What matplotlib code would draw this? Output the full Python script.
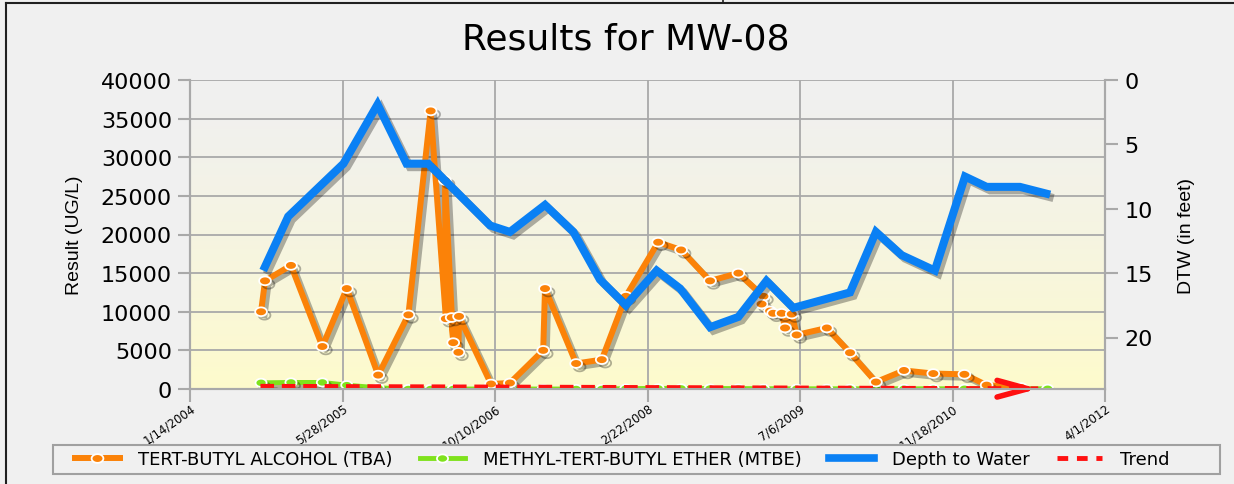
import numpy as np
import pandas as pd
import matplotlib
matplotlib.use("Agg")
import matplotlib.pyplot as plt
import matplotlib.patheffects as pe
from matplotlib.lines import Line2D
from matplotlib.patches import Rectangle
from matplotlib.path import Path

plt.rcParams['font.family'] = ['DejaVu Sans']
NARROW = ['Liberation Sans', 'DejaVu Sans']

# ---------------- data ----------------
title = "Results for MW-08"
xtick_labels = ['1/14/2004', '5/28/2005', '10/10/2006', '2/22/2008', '7/6/2009', '11/18/2010', '4/1/2012']
y_ticks = [0, 5000, 10000, 15000, 20000, 25000, 30000, 35000, 40000]
dtw_ticks = [0, 5, 10, 15, 20]

tba_dates = ['2004-09-03', '2004-09-16', '2004-12-10', '2005-03-23', '2005-06-11', '2005-09-22',
             '2005-12-30', '2006-03-13', '2006-05-02', '2006-04-29', '2006-05-26', '2006-05-21',
             '2006-06-12', '2006-06-14', '2006-09-27', '2006-11-28', '2007-03-17', '2007-03-23',
             '2007-07-03', '2007-09-25', '2007-12-13', '2008-03-28', '2008-06-11', '2008-09-14',
             '2008-12-16', '2009-03-08', '2009-03-02', '2009-03-30', '2009-04-09', '2009-05-07',
             '2009-05-18', '2009-06-09', '2009-06-25', '2009-10-02', '2009-12-17', '2010-03-12',
             '2010-06-12', '2010-09-16', '2010-12-27', '2011-03-10', '2011-07-01']
tba_vals = [10000, 14000, 16000, 5500, 13000, 1800, 9600, 36000, 9100, 27000,
            6000, 9250, 4750, 9400, 650, 780, 5000, 13000, 3300, 3800,
            12000, 19000, 18000, 14000, 15000, 12000, 11000, 10100, 9800, 9800,
            7900, 9700, 7000, 7900, 4700, 900, 2400, 2000, 1900, 500, 200]

mtbe_dates = ['2004-09-03', '2004-12-10', '2005-03-23', '2005-06-11', '2005-09-22', '2005-12-30',
              '2006-03-13', '2006-05-26', '2006-06-14', '2006-09-27', '2006-11-28', '2007-03-17',
              '2007-07-03', '2007-09-25', '2007-12-13', '2008-03-28', '2008-06-11', '2008-09-14',
              '2008-12-16', '2009-03-08', '2009-06-25', '2009-10-02', '2009-12-17', '2010-03-12',
              '2010-06-12', '2010-09-16', '2010-12-27', '2011-03-10', '2011-07-01', '2011-09-26']
mtbe_vals = [800, 850, 850, 500, 150, 0, 0, 0, 0, 0,
             0, 0, 0, 0, 50, 80, 80, 60, 60, 40,
             30, 30, 30, 30, 30, 30, 30, 30, 30, 30]

dtw_dates = ['2004-09-10', '2004-12-01', '2005-05-31', '2005-09-20', '2005-12-24', '2006-03-05',
             '2006-09-24', '2006-11-28', '2007-03-23', '2007-06-24', '2007-09-19', '2007-12-13',
             '2008-03-23', '2008-06-08', '2008-09-14', '2008-12-16', '2009-03-18', '2009-06-14',
             '2009-12-17', '2010-03-12', '2010-06-04', '2010-09-21', '2010-12-29', '2011-03-10',
             '2011-06-27', '2011-10-04']
dtw_vals = [14.8, 10.6, 6.5, 1.9, 6.5, 6.5, 11.3, 11.8, 9.7, 11.8,
            15.5, 17.5, 14.8, 16.2, 19.2, 18.4, 15.6, 17.7, 16.5, 11.8,
            13.6, 14.8, 7.5, 8.3, 8.3, 8.9]

trend_dates = ['2004-09-01', '2011-08-26']
trend_vals = [350, 30]

legend_labels = ['TERT-BUTYL ALCOHOL (TBA)', 'METHYL-TERT-BUTYL ETHER (MTBE)', 'Depth to Water', 'Trend']

# ---------------- styling ----------------
C_TBA = '#fb8208'
C_MTBE = '#7fe21c'
C_DTW = '#0a80f4'
C_TREND = '#ff1010'
GRID = '#a9a9a9'
BG = '#f0f0f0'
W, H = 1234, 485

th = np.linspace(0, 2 * np.pi, 41)
OVAL = Path(np.c_[1.35 * np.cos(th), np.sin(th)], closed=True)

xt = pd.to_datetime(xtick_labels, format='%m/%d/%Y')
tba_x = pd.to_datetime(tba_dates)
mtbe_x = pd.to_datetime(mtbe_dates)
dtw_x = pd.to_datetime(dtw_dates)
trend_x = pd.to_datetime(trend_dates)

fig = plt.figure(figsize=(W / 100, H / 100), dpi=100)
fig.patch.set_facecolor(BG)

pos = [190 / W, 1 - 390 / H, (1105 - 190) / W, (390 - 81) / H]

# gradient background of the plot area
bg = fig.add_axes(pos, zorder=0)
t = np.linspace(0, 1, 256)[:, None]
top = np.array([240, 240, 240]) / 255
bot = np.array([254, 251, 204]) / 255
w = t ** 1.3
grad = top[None, None, :] * (1 - w[..., None]) + bot[None, None, :] * w[..., None]
grad = np.repeat(grad, 2, axis=1)
bg.imshow(grad, aspect='auto', extent=[0, 1, 0, 1], origin='upper')
bg.set_axis_off()

ax = fig.add_axes(pos, zorder=1)
ax.patch.set_alpha(0)

shadow = [pe.SimpleLineShadow(offset=(2.5, -2.5), shadow_color='k', alpha=0.3), pe.Normal()]

ax.plot(mtbe_x, mtbe_vals, color=C_MTBE, lw=3.5, marker=OVAL, ms=8, mfc=C_MTBE, mec='white',
        mew=1.3, path_effects=shadow, zorder=3)
ax.plot(tba_x, tba_vals, color=C_TBA, lw=4.3, marker=OVAL, ms=8.5, mfc=C_TBA, mec='white',
        mew=1.3, path_effects=shadow, zorder=4)
ax.plot(trend_x, trend_vals, color=C_TREND, lw=3.5, ls=(0, (2.8, 1.6)), path_effects=shadow, zorder=5)
ax.annotate('', xy=(trend_x[-1], trend_vals[-1]),
            xytext=(trend_x[-1] - pd.Timedelta(days=60), trend_vals[-1] + 3),
            arrowprops=dict(arrowstyle='->,head_length=2.2,head_width=0.6', color=C_TREND, lw=4,
                            mutation_scale=10, shrinkA=0, shrinkB=0), zorder=6)

ax.set_xlim(xt[0], xt[-1])
ax.set_ylim(0, 40000)
ax.set_xticks(xt)
ax.set_xticklabels(xtick_labels, rotation=35, ha='right', va='top', rotation_mode='anchor', fontsize=8.5)
ax.set_yticks(y_ticks)
ax.set_yticklabels([str(v) for v in y_ticks], fontsize=16)
ax.grid(True, color=GRID, lw=1.3)
ax.set_axisbelow(True)
ax.tick_params(axis='y', color=GRID, width=1.5, length=9, pad=4)
ax.tick_params(axis='x', color=GRID, width=1.5, length=9, pad=0)
for s in ['left', 'bottom', 'right']:
    ax.spines[s].set_color(GRID)
    ax.spines[s].set_linewidth(1.5)
ax.spines['top'].set_visible(False)
ax.set_ylabel('Result (UG/L)', fontsize=14, family=NARROW, labelpad=13)

ax2 = ax.twinx()
ax2.plot(dtw_x, dtw_vals, color=C_DTW, lw=5.8, solid_capstyle='butt', solid_joinstyle='miter',
         path_effects=shadow, zorder=3)
ax2.set_ylim(24, 0)
ax2.set_yticks(dtw_ticks)
ax2.set_yticklabels([str(v) for v in dtw_ticks], fontsize=16)
ax2.tick_params(axis='y', color=GRID, width=1.5, length=9, pad=5)
for s in ['left', 'bottom', 'right']:
    ax2.spines[s].set_color(GRID)
    ax2.spines[s].set_linewidth(1.5)
ax2.spines['top'].set_visible(False)
ax2.set_ylabel('DTW (in feet)', fontsize=14, family=NARROW, labelpad=18)

fig.text(626 / W, 1 - 40 / H, title, fontsize=26, ha='center', va='center')

# legend (frame drawn as a separate box like the original)
fig.add_artist(Rectangle((53 / W, 1 - 475 / H), (1220 - 53) / W, 29 / H, transform=fig.transFigure,
                         facecolor=BG, edgecolor='#a0a0a0', lw=1.5, zorder=2))
handles = [
    Line2D([], [], color=C_TBA, lw=4.3, marker=OVAL, ms=8.5, mfc=C_TBA, mec='white', mew=1.3),
    Line2D([], [], color=C_MTBE, lw=3.5, marker=OVAL, ms=8, mfc=C_MTBE, mec='white', mew=1.3),
    Line2D([], [], color=C_DTW, lw=5.5),
    Line2D([], [], color=C_TREND, lw=3.5, ls=(0, (2.2, 1.8))),
]
leg = fig.legend(handles, legend_labels, loc='center', bbox_to_anchor=(622 / W, 1 - 460.5 / H),
                 ncol=4, fontsize=13, frameon=False, handlelength=2.5, handletextpad=1.0,
                 columnspacing=1.5, borderpad=0.2, borderaxespad=0)
leg.set_zorder(3)

# screenshot frame lines
fig.add_artist(Line2D([6 / W, 1], [1 - 4 / H, 1 - 4 / H], color='#202020', lw=1.5))
fig.add_artist(Line2D([6 / W, 6 / W], [0, 1 - 4 / H], color='#202020', lw=1.5))
fig.add_artist(Line2D([723 / W, 723 / W], [1 - 4 / H, 1], color='#202020', lw=1.2))

fig.savefig('out.png', dpi=100, facecolor=fig.get_facecolor())
